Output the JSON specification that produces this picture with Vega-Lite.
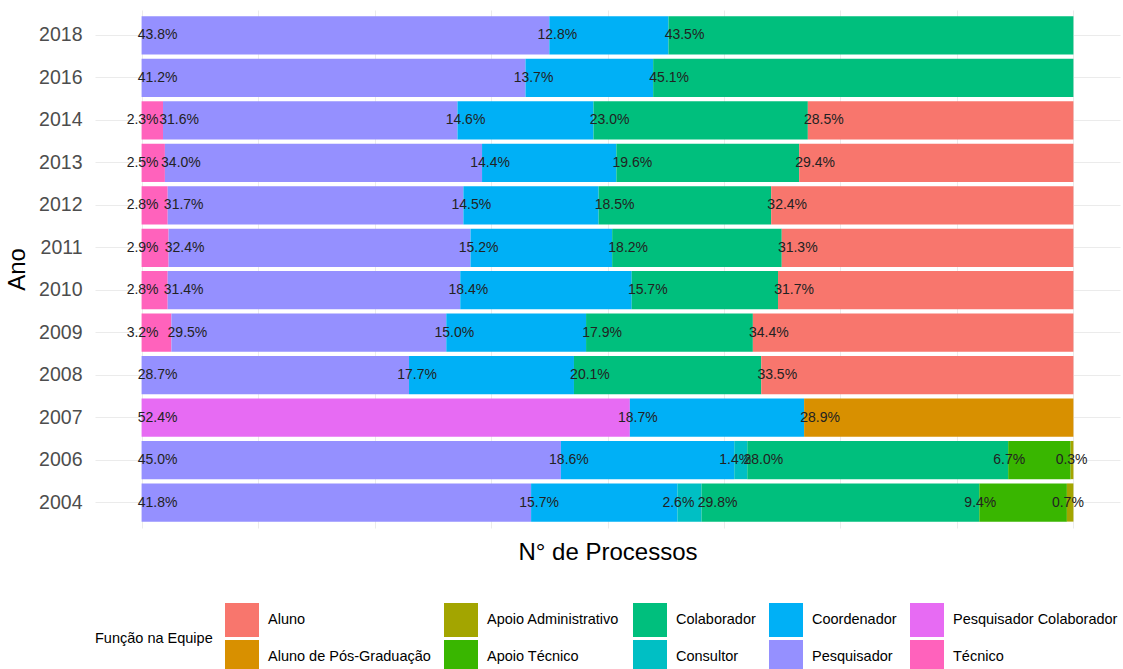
{
  "$schema": "https://vega.github.io/schema/vega-lite/v6.json",
  "autosize": "none",
  "width": 1025,
  "height": 518,
  "padding": {"left": 95, "top": 10, "right": 3, "bottom": 141},
  "config": {
    "view": {"stroke": null},
    "font": "Liberation Sans",
    "background": "white"
  },
  "data": {
    "values": [
      {"ano": "2018", "funcao": "Pesquisador", "pct": 0.438},
      {"ano": "2018", "funcao": "Coordenador", "pct": 0.128},
      {"ano": "2018", "funcao": "Colaborador", "pct": 0.435},
      {"ano": "2016", "funcao": "Pesquisador", "pct": 0.412},
      {"ano": "2016", "funcao": "Coordenador", "pct": 0.137},
      {"ano": "2016", "funcao": "Colaborador", "pct": 0.451},
      {"ano": "2014", "funcao": "Técnico", "pct": 0.023},
      {"ano": "2014", "funcao": "Pesquisador", "pct": 0.316},
      {"ano": "2014", "funcao": "Coordenador", "pct": 0.146},
      {"ano": "2014", "funcao": "Colaborador", "pct": 0.230},
      {"ano": "2014", "funcao": "Aluno", "pct": 0.285},
      {"ano": "2013", "funcao": "Técnico", "pct": 0.025},
      {"ano": "2013", "funcao": "Pesquisador", "pct": 0.340},
      {"ano": "2013", "funcao": "Coordenador", "pct": 0.144},
      {"ano": "2013", "funcao": "Colaborador", "pct": 0.196},
      {"ano": "2013", "funcao": "Aluno", "pct": 0.294},
      {"ano": "2012", "funcao": "Técnico", "pct": 0.028},
      {"ano": "2012", "funcao": "Pesquisador", "pct": 0.317},
      {"ano": "2012", "funcao": "Coordenador", "pct": 0.145},
      {"ano": "2012", "funcao": "Colaborador", "pct": 0.185},
      {"ano": "2012", "funcao": "Aluno", "pct": 0.324},
      {"ano": "2011", "funcao": "Técnico", "pct": 0.029},
      {"ano": "2011", "funcao": "Pesquisador", "pct": 0.324},
      {"ano": "2011", "funcao": "Coordenador", "pct": 0.152},
      {"ano": "2011", "funcao": "Colaborador", "pct": 0.182},
      {"ano": "2011", "funcao": "Aluno", "pct": 0.313},
      {"ano": "2010", "funcao": "Técnico", "pct": 0.028},
      {"ano": "2010", "funcao": "Pesquisador", "pct": 0.314},
      {"ano": "2010", "funcao": "Coordenador", "pct": 0.184},
      {"ano": "2010", "funcao": "Colaborador", "pct": 0.157},
      {"ano": "2010", "funcao": "Aluno", "pct": 0.317},
      {"ano": "2009", "funcao": "Técnico", "pct": 0.032},
      {"ano": "2009", "funcao": "Pesquisador", "pct": 0.295},
      {"ano": "2009", "funcao": "Coordenador", "pct": 0.150},
      {"ano": "2009", "funcao": "Colaborador", "pct": 0.179},
      {"ano": "2009", "funcao": "Aluno", "pct": 0.344},
      {"ano": "2008", "funcao": "Pesquisador", "pct": 0.287},
      {"ano": "2008", "funcao": "Coordenador", "pct": 0.177},
      {"ano": "2008", "funcao": "Colaborador", "pct": 0.201},
      {"ano": "2008", "funcao": "Aluno", "pct": 0.335},
      {"ano": "2007", "funcao": "Pesquisador Colaborador", "pct": 0.524},
      {"ano": "2007", "funcao": "Coordenador", "pct": 0.187},
      {"ano": "2007", "funcao": "Aluno de Pós-Graduação", "pct": 0.289},
      {"ano": "2006", "funcao": "Pesquisador", "pct": 0.450},
      {"ano": "2006", "funcao": "Coordenador", "pct": 0.186},
      {"ano": "2006", "funcao": "Consultor", "pct": 0.014},
      {"ano": "2006", "funcao": "Colaborador", "pct": 0.280},
      {"ano": "2006", "funcao": "Apoio Técnico", "pct": 0.067},
      {"ano": "2006", "funcao": "Apoio Administrativo", "pct": 0.003},
      {"ano": "2004", "funcao": "Pesquisador", "pct": 0.418},
      {"ano": "2004", "funcao": "Coordenador", "pct": 0.157},
      {"ano": "2004", "funcao": "Consultor", "pct": 0.026},
      {"ano": "2004", "funcao": "Colaborador", "pct": 0.298},
      {"ano": "2004", "funcao": "Apoio Técnico", "pct": 0.094},
      {"ano": "2004", "funcao": "Apoio Administrativo", "pct": 0.007}
    ]
  },
  "transform": [
    {
      "stack": "pct",
      "groupby": ["ano"],
      "sort": [{"field": "funcao", "order": "descending"}],
      "offset": "normalize",
      "as": ["x0", "x1"]
    }
  ],
  "encoding": {
    "y": {
      "field": "ano",
      "type": "nominal",
      "sort": "descending",
      "scale": {"paddingInner": 0.1, "paddingOuter": 0.15},
      "axis": {
        "title": "Ano",
        "titleFontSize": 24,
        "titleFontWeight": "normal",
        "titleColor": "#000000",
        "titlePadding": 9,
        "labelFontSize": 19.5,
        "labelColor": "#4d4d4d",
        "labelPadding": 13,
        "ticks": false,
        "domain": false,
        "grid": true,
        "gridColor": "#ebebeb",
        "gridWidth": 1
      }
    }
  },
  "layer": [
    {
      "mark": {"type": "bar"},
      "encoding": {
        "x": {
          "field": "x0",
          "type": "quantitative",
          "scale": {"domain": [-0.05, 1.05], "nice": false, "zero": false},
          "axis": {
            "title": "N° de Processos",
            "titleFontSize": 24,
            "titleFontWeight": "normal",
            "titleColor": "#000000",
            "titlePadding": 12,
            "labels": false,
            "ticks": false,
            "domain": false,
            "values": [0, 0.125, 0.25, 0.375, 0.5, 0.625, 0.75, 0.875, 1],
            "grid": true,
            "gridColor": "#ebebeb",
            "gridWidth": 1
          }
        },
        "x2": {"field": "x1"},
        "color": {
          "field": "funcao",
          "type": "nominal",
          "scale": {
            "domain": ["Aluno", "Apoio Administrativo", "Colaborador", "Coordenador", "Pesquisador Colaborador", "Aluno de Pós-Graduação", "Apoio Técnico", "Consultor", "Pesquisador", "Técnico"],
            "range": ["#F8766D", "#A3A500", "#00BF7D", "#00B0F6", "#E76BF3", "#D89000", "#39B600", "#00BFC4", "#9590FF", "#FF62BC"]
          },
          "legend": {
            "title": "Função na Equipe",
            "orient": "none",
            "legendX": 0,
            "legendY": 593,
            "direction": "horizontal",
            "columns": 5,
            "titleOrient": "left",
            "titleAnchor": "middle",
            "titleBaseline": "middle",
            "titleFontSize": 14.5,
            "titleFontWeight": "normal",
            "titleColor": "#000000",
            "titlePadding": 12,
            "labelFontSize": 14.5,
            "labelColor": "#000000",
            "labelOffset": 9,
            "labelLimit": 300,
            "symbolType": "square",
            "symbolSize": 1156,
            "symbolStrokeWidth": 0,
            "symbolOpacity": 1,
            "rowPadding": 3,
            "columnPadding": 13,
            "padding": 0
          }
        }
      }
    },
    {
      "transform": [{"filter": {"field": "funcao", "oneOf": ["Técnico", "Consultor", "Apoio Administrativo", "Apoio Técnico"]}}],
      "mark": {"type": "text", "align": "center", "baseline": "middle", "dx": 1, "fontSize": 14, "color": "#222222"},
      "encoding": {
        "x": {"field": "x0", "type": "quantitative"},
        "text": {"field": "pct", "type": "quantitative", "format": ".1%"}
      }
    },
    {
      "transform": [{"filter": {"field": "funcao", "oneOf": ["Coordenador"]}}],
      "mark": {"type": "text", "align": "center", "baseline": "middle", "dx": 8, "fontSize": 14, "color": "#222222"},
      "encoding": {
        "x": {"field": "x0", "type": "quantitative"},
        "text": {"field": "pct", "type": "quantitative", "format": ".1%"}
      }
    },
    {
      "transform": [{"filter": {"field": "funcao", "oneOf": ["Pesquisador", "Colaborador", "Aluno", "Aluno de Pós-Graduação", "Pesquisador Colaborador"]}}],
      "mark": {"type": "text", "align": "center", "baseline": "middle", "dx": 16, "fontSize": 14, "color": "#222222"},
      "encoding": {
        "x": {"field": "x0", "type": "quantitative"},
        "text": {"field": "pct", "type": "quantitative", "format": ".1%"}
      }
    }
  ]
}
